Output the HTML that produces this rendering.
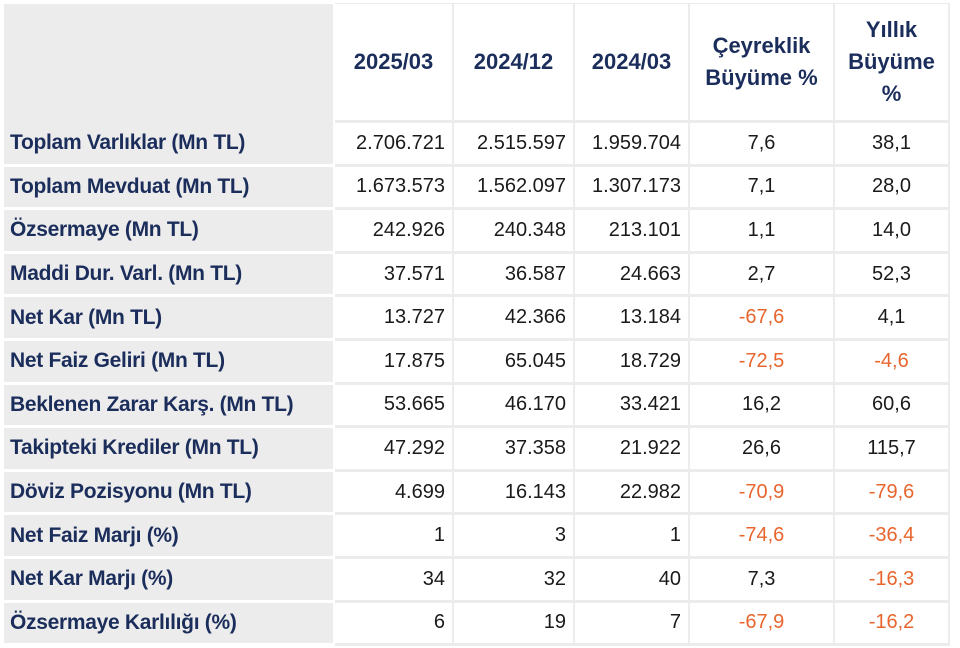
<!DOCTYPE html>
<html><head><meta charset="utf-8">
<style>
body{margin:0;width:960px;height:648px;background:#fff;position:relative;overflow:hidden;font-family:"Liberation Sans",sans-serif;}
.c{position:absolute;box-sizing:border-box;display:flex;align-items:center;font-size:20px;color:#1a1a1a;background:#fff;}
.lab{background:#ececec;color:#1b2d5b;font-weight:bold;padding-left:6px;font-size:21px;letter-spacing:-0.3px}
.hd{color:#1b2d5b;font-weight:bold;justify-content:center;text-align:center;line-height:32px;font-size:22px}
.r{justify-content:flex-end;padding-right:7px}
.m{justify-content:center}
.neg{color:#e8662e}
#bg{position:absolute;left:4px;top:3px;width:946px;height:643px;background:#ececec}
#lbg{position:absolute;left:4px;top:3px;width:331px;height:643px;background:#fff}
</style></head><body>
<div id="bg"></div>
<div id="lbg"></div>
<script>
const labels=["Toplam Varlıklar (Mn TL)","Toplam Mevduat (Mn TL)","Özsermaye (Mn TL)","Maddi Dur. Varl. (Mn TL)","Net Kar (Mn TL)","Net Faiz Geliri (Mn TL)","Beklenen Zarar Karş. (Mn TL)","Takipteki Krediler (Mn TL)","Döviz Pozisyonu (Mn TL)","Net Faiz Marjı (%)","Net Kar Marjı (%)","Özsermaye Karlılığı (%)"];
const v2025_03=["2.706.721","1.673.573","242.926","37.571","13.727","17.875","53.665","47.292","4.699","1","34","6"];
const v2024_12=["2.515.597","1.562.097","240.348","36.587","42.366","65.045","46.170","37.358","16.143","3","32","19"];
const v2024_03=["1.959.704","1.307.173","213.101","24.663","13.184","18.729","33.421","21.922","22.982","1","40","7"];
const qGrowth=["7,6","7,1","1,1","2,7","-67,6","-72,5","16,2","26,6","-70,9","-74,6","7,3","-67,9"];
const yGrowth=["38,1","28,0","14,0","52,3","4,1","-4,6","60,6","115,7","-79,6","-36,4","-16,3","-16,2"];
const headers=["","2025/03","2024/12","2024/03","Çeyreklik<br>Büyüme %","Yıllık<br>Büyüme<br>%"];
const colX=[4,335,454,575,690,835,950];
const top0=4,headH=116,rowH=43.6;
function cell(x,y,w,h,cls,html){const d=document.createElement('div');d.className='c '+cls;d.style.left=x+'px';d.style.top=y+'px';d.style.width=w+'px';d.style.height=h+'px';d.innerHTML=html;document.body.appendChild(d);return d;}
for(let j=0;j<6;j++){
  const d=cell(colX[j],top0,colX[j+1]-colX[j]-2,headH+(j==0?3:0),j==0?'lab':'hd',headers[j]);
  
  
}
const cols=[v2025_03,v2024_12,v2024_03,qGrowth,yGrowth];
for(let i=0;i<labels.length;i++){
  const y=top0+headH+3+i*rowH, h=rowH-3;
  const l=cell(colX[0],y,colX[1]-colX[0]-2,h+(i==0?0:0),'lab',labels[i]);
  
  
  for(let j=0;j<5;j++){
    const val=cols[j][i];
    const cls=(j<3?'r':'m')+(j>=3&&val[0]=='-'?' neg':'');
    const d=cell(colX[j+1],y,colX[j+2]-colX[j+1]-2,h,cls,val);
    
    
  }
}
</script>
</body></html>
